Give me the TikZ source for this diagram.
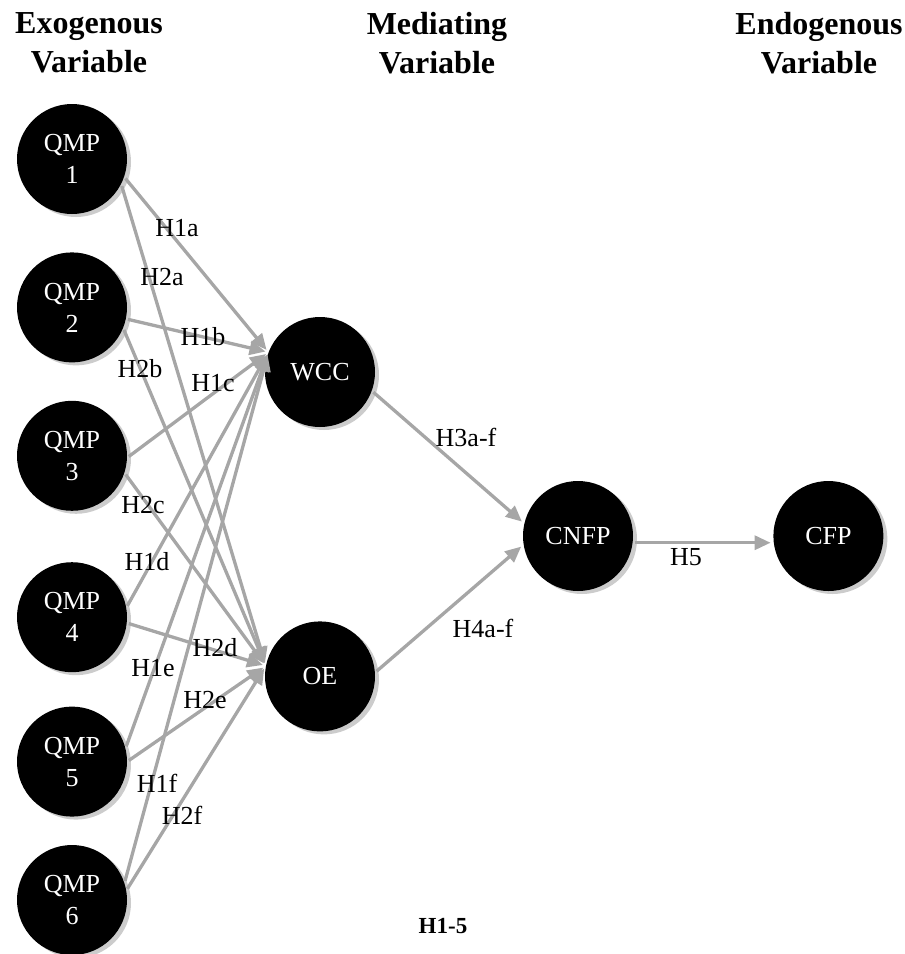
\documentclass[tikz,border=0pt]{standalone}
\usepackage{fontspec}
\setmainfont{Liberation Serif}
\usetikzlibrary{positioning,arrows.meta,shadows}

\definecolor{hypgray}{RGB}{166,166,166}
\definecolor{shadowgray}{RGB}{204,204,204}

\tikzset{
	latent/.style={circle, fill=black, text=white, minimum size=110pt, inner sep=0pt,
		align=center, font=\fontsize{26}{32}\selectfont,
		drop shadow={shadow xshift=4pt, shadow yshift=-3pt, fill=shadowgray, opacity=1}},
	hyp/.style={draw=hypgray, line width=3.3pt, -{Triangle[length=16pt,width=14pt]},
		shorten <=2pt, shorten >=3pt},
	hlabel/.style={font=\fontsize{26}{30}\selectfont, inner sep=0pt},
	header/.style={font=\bfseries\fontsize{32}{39}\selectfont, align=center, inner sep=0pt},
}

\begin{document}
\begin{tikzpicture}[x=1pt, y=-1pt]
	\useasboundingbox (0,0) rectangle (905,954);
	
	% column headers
	\node[header] (exo) at (89,43) {Exogenous\\Variable};
	\node[header] (med) at (437,43) {Mediating\\Variable};
	\node[header] (endo) at (819,43) {Endogenous\\Variable};
	
	% exogenous
	\node[latent] (q1) at (72,159) {QMP\\1};
	\node[latent, below=38pt of q1] (q2) {QMP\\2};
	\node[latent, below=38pt of q2] (q3) {QMP\\3};
	\node[latent, below=51pt of q3] (q4) {QMP\\4};
	\node[latent, below=34pt of q4] (q5) {QMP\\5};
	\node[latent, below=28pt of q5] (q6) {QMP\\6};
	
	% mediating and endogenous
	\node[latent] (wcc) at (320,372) {WCC};
	\node[latent, below=194pt of wcc] (oe) {OE};
	\node[latent] (cnfp) at (578,536) {CNFP};
	\node[latent, right=140pt of cnfp] (cfp) {CFP};
	
	\foreach \q/\a/\b in {1/-19/-27, 2/-12/-22, 3/-2/-18, 4/10/-6, 5/14/0, 6/18/10} {
		\draw[hyp] (q\q.\a) -- (wcc.159);
		\draw[hyp] (q\q.\b) -- (oe.169);
	}
	
	\draw[hyp] (wcc.-20) -- (cnfp.167);
	\draw[hyp] (oe.4) -- (cnfp.-171);
	\draw[hyp] (cnfp.-7) -- (cfp.187);
	
	% hypothesis labels
	\node[hlabel] (l1a) at (177,228) {H1a};
	\node[hlabel] (l2a) at (162,277) {H2a};
	\node[hlabel] (l1b) at (203,337) {H1b};
	\node[hlabel] (l2b) at (140,369) {H2b};
	\node[hlabel] (l1c) at (213,383) {H1c};
	\node[hlabel] (l2c) at (143,505) {H2c};
	\node[hlabel] (l1d) at (147,562) {H1d};
	\node[hlabel] (l2d) at (215,648) {H2d};
	\node[hlabel] (l1e) at (153,668) {H1e};
	\node[hlabel] (l2e) at (205,700) {H2e};
	\node[hlabel] (l1f) at (157,783) {H1f};
	\node[hlabel] (l2f) at (182,815) {H2f};
	\node[hlabel] (l3) at (466,437) {H3a-f};
	\node[hlabel] (l4) at (483,628) {H4a-f};
	\node[hlabel] (l5) at (686,557) {H5};
	
	\node[font=\bfseries\fontsize{23}{28}\selectfont, inner sep=0pt] (h15) at (443,926) {H1-5};
\end{tikzpicture}
\end{document}
